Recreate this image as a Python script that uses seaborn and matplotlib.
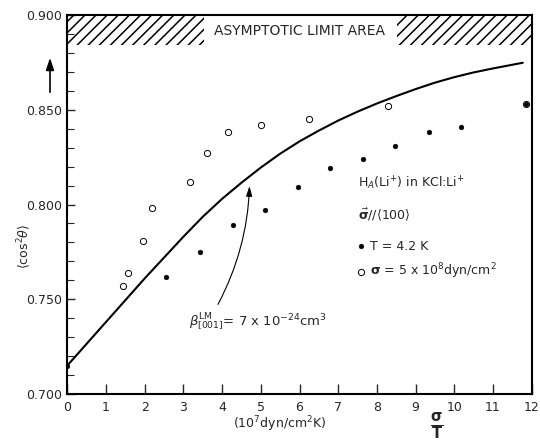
import matplotlib
matplotlib.use("Agg")
import matplotlib.pyplot as plt
import seaborn as sns
import pandas as pd

# ---- data ----
filled_x = [0.0, 2.56, 3.42, 4.27, 5.11, 5.95, 6.80, 7.64, 8.48, 9.34, 10.18, 11.86]
filled_y = [0.715, 0.762, 0.775, 0.789, 0.797, 0.809, 0.819, 0.824, 0.831, 0.838, 0.841, 0.853]

open_x = [1.45, 1.58, 1.95, 2.18, 3.17, 3.62, 4.15, 5.00, 6.25, 8.29, 11.86]
open_y = [0.757, 0.764, 0.781, 0.798, 0.812, 0.827, 0.838, 0.842, 0.845, 0.852, 0.853]

curve_x = [0.0, 0.5, 1.0, 1.5, 2.0, 2.5, 3.0, 3.5, 4.0, 4.5, 5.0, 5.5, 6.0,
           6.5, 7.0, 7.5, 8.0, 8.5, 9.0, 9.5, 10.0, 10.5, 11.0, 11.77]
curve_y = [0.715, 0.7265, 0.738, 0.7495, 0.761, 0.772, 0.783, 0.7935, 0.803,
           0.8115, 0.8195, 0.8268, 0.8333, 0.839, 0.8443, 0.849, 0.8533, 0.8572,
           0.8609, 0.8643, 0.8672, 0.8697, 0.8718, 0.8748]

x_ticks = list(range(0, 13))
y_major = [0.700, 0.750, 0.800, 0.850, 0.900]
y_minor = [0.71, 0.72, 0.73, 0.74, 0.76, 0.77, 0.78, 0.79, 0.81, 0.82, 0.83, 0.84,
           0.86, 0.87, 0.88, 0.89]

hatch_left = (0.0, 3.52)
hatch_right = (8.51, 12.0)
hatch_band = (0.884, 0.900)

df_filled = pd.DataFrame({"x": filled_x, "y": filled_y})
df_open = pd.DataFrame({"x": open_x, "y": open_y})
df_curve = pd.DataFrame({"x": curve_x, "y": curve_y})

sns.set_theme(style="white")
plt.rcParams["font.family"] = ["DejaVu Sans"]
plt.rcParams["hatch.linewidth"] = 1.1

fig = plt.figure(figsize=(5.4, 4.45), dpi=100)
ax = fig.add_axes([67.3 / 540, 1 - 394 / 445, (531.7 - 67.3) / 540, (394 - 15) / 445])

sns.lineplot(data=df_curve, x="x", y="y", ax=ax, color="black", lw=1.5, sort=True)
sns.scatterplot(data=df_open, x="x", y="y", ax=ax, marker="o", s=20,
                facecolor="white", edgecolor="black", linewidth=0.7,
                label=r"$\mathbf{\sigma}$ = 5 x 10$^{8}$dyn/cm$^{2}$", zorder=3)
sns.scatterplot(data=df_filled, x="x", y="y", ax=ax, marker="o", s=12,
                color="black", edgecolor="black", linewidth=0.3,
                label="T = 4.2 K", zorder=4)

# hatched asymptotic limit area
for (a, b) in (hatch_left, hatch_right):
    ax.fill_between([a, b], hatch_band[0], hatch_band[1], facecolor="none",
                    edgecolor="black", hatch="///", linewidth=0)
ax.text(6.0, 0.8915, "ASYMPTOTIC LIMIT AREA", ha="center", va="center", fontsize=10)

ax.set_xlim(0, 12)
ax.set_ylim(0.700, 0.900)
ax.set_xticks(x_ticks)
ax.set_xticklabels([str(t) for t in x_ticks])
ax.set_yticks(y_major)
ax.set_yticklabels([f"{v:.3f}" for v in y_major])
ax.set_yticks(y_minor, minor=True)
ax.tick_params(axis="x", direction="in", length=7, width=1, labelsize=9, pad=5, bottom=True)
ax.tick_params(axis="y", which="major", direction="in", length=6, width=1, labelsize=9, left=True)
ax.tick_params(axis="y", which="minor", direction="in", length=5, width=0.8, left=True)
ax.set_xlabel("")
ax.set_ylabel("")
for s in ax.spines.values():
    s.set_visible(True)
    s.set_color("black")
    s.set_linewidth(1.5)

# legend
handles, labels = ax.get_legend_handles_labels()
ax.legend(handles[::-1], labels[::-1], loc="upper left", bbox_to_anchor=(0.6, 0.43),
          frameon=False, fontsize=9, handletextpad=0.2, handlelength=1.0,
          labelspacing=0.7, borderpad=0.2)

ax.text(0.625, 0.555, r"H$_{A}$(Li$^{+}$) in KCl:Li$^{+}$", transform=ax.transAxes,
        fontsize=9, ha="left", va="center")
ax.text(0.625, 0.473, r"$\vec{\mathbf{\sigma}}$//$\langle$100$\rangle$", transform=ax.transAxes,
        fontsize=9, ha="left", va="center")

# beta annotation
ax.text(3.15, 0.738, r"$\beta^{\rm LM}_{[001]}$= 7 x 10$^{-24}$cm$^{3}$", fontsize=9.5,
        ha="left", va="center")
ax.annotate("", xy=(4.71, 0.8112), xytext=(3.86, 0.746),
            arrowprops=dict(arrowstyle="-|>,head_length=0.5,head_width=0.15",
                            connectionstyle="arc3,rad=0.12", lw=0.8, color="black"))

# axis labels
fig.text(24 / 540, 1 - 246 / 445, r"$\langle$cos$^{2}\theta\rangle$", rotation=90,
         ha="center", va="center", fontsize=9)
ax.annotate("", xy=(50 / 540, 1 - 55 / 445), xytext=(50 / 540, 1 - 95 / 445),
            xycoords="figure fraction", textcoords="figure fraction",
            arrowprops=dict(arrowstyle="-|>,head_length=0.6,head_width=0.2", lw=1.2,
                            color="black"))
fig.text(280 / 540, 1 - 424 / 445, r"(10$^{7}$dyn/cm$^{2}$K)", ha="center", va="center",
         fontsize=9)
fig.text(437 / 540, 1 - 426 / 445, r"$\frac{\mathbf{\sigma}}{\mathbf{T}}$", ha="center",
         va="center", fontsize=15)

fig.savefig("out.png", dpi=100)
